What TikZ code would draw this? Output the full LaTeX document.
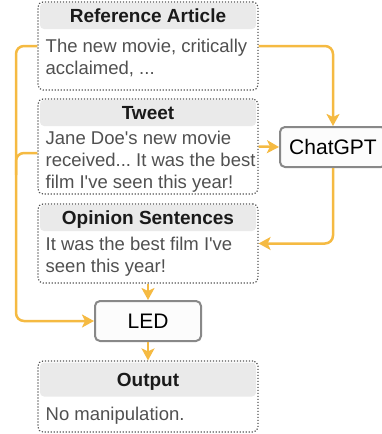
\documentclass[tikz,border=0pt]{standalone}
\usepackage{fontspec}
\setmainfont{Liberation Sans}[Ligatures=TeXOff]
\usetikzlibrary{arrows.meta,calc}
\definecolor{flowc}{RGB}{245,186,66}
\definecolor{hdrc}{RGB}{234,234,234}
\definecolor{bodyc}{RGB}{80,80,80}
\definecolor{titlec}{RGB}{26,26,26}
\definecolor{dotc}{RGB}{85,85,85}
\definecolor{modc}{RGB}{136,136,136}
\definecolor{modfill}{RGB}{252,252,252}
\frenchspacing
\begin{document}
\begin{tikzpicture}[x=1pt,y=-1pt,
 panel/.style={draw=dotc, line width=1.2pt, dash pattern=on 1.2pt off 1.8pt, rounded corners=5pt, minimum width=220pt, inner sep=0pt},
 hdr/.style={fill=hdrc, rounded corners=4pt, minimum width=216pt, inner sep=0pt},
 ttl/.style={font=\fontsize{19}{22}\selectfont\bfseries, text=titlec, anchor=base, inner sep=0pt},
 txt/.style={font=\fontsize{18.5}{22}\selectfont\frenchspacing, text=bodyc, anchor=base west, inner sep=0pt},
 model/.style={draw=modc, line width=2pt, fill=modfill, rounded corners=5pt, minimum width=106pt, minimum height=40pt, font=\fontsize{21}{24}\selectfont, inner sep=0pt},
 flow/.style={draw=flowc, line width=2.5pt, rounded corners=8pt, -{Stealth[length=12pt,width=13pt,inset=3pt]}},
 link/.style={draw=flowc, line width=2.5pt, rounded corners=8pt}]
\useasboundingbox (0,0) rectangle (382,434);

% Reference Article
\node[panel, minimum height=88pt] (ref) at (148,46) {};
\node[hdr, minimum height=26pt] (refh) at (148,16) {};
\node[ttl] (reft) at (148,22.3) {Reference Article};
\node[txt] (ref1) at (45.5,52) {The new movie, critically};
\node[txt] (ref2) at (45.5,74) {acclaimed, ...};

% Tweet
\node[panel, minimum height=95pt] (tw) at (148,146.5) {};
\node[hdr, minimum height=26pt] (twh) at (148,113) {};
\node[ttl] (twt) at (148,119) {Tweet};
\node[txt] (tw1) at (45.5,144) {Jane Doe's new movie};
\node[txt] (tw2) at (45.5,166) {received... It was the best};
\node[txt] (tw3) at (45.5,188) {film I've seen this year!};

% Opinion Sentences
\node[panel, minimum height=79pt] (op) at (148,243.5) {};
\node[hdr, minimum height=26pt] (oph) at (148,218) {};
\node[ttl] (opt) at (148,224) {Opinion Sentences};
\node[txt] (op1) at (45.5,250.5) {It was the best film I've};
\node[txt] (op2) at (45.5,272.5) {seen this year!};

% Output
\node[panel, minimum height=71pt] (out) at (148,396.5) {};
\node[hdr, minimum height=34pt] (outh) at (148,379.5) {};
\node[ttl] (outt) at (148,386) {Output};
\node[txt] (out1) at (45.5,420.5) {No manipulation.};

% Models
\node[model] (chat) at (333,147) {ChatGPT};
\node[model] (led) at (148,321) {LED};

% Connectors
\coordinate (lx) at (16,0);
\coordinate (tj) at (16,175);
\draw[flow] (ref.east) -| (chat.north);
\draw[flow] (tw.east) -- (chat.west);
\draw[flow] (chat.south) |- (op.east);
\draw[flow] (ref.west) -- (ref.west -| lx) |- (led.west);
\draw[link] ([yshift=-6.5pt]tw.west) -| (tj);
\draw[flow] (op.south) -- (led.north);
\draw[flow] (led.south) -- (out.north);
\end{tikzpicture}
\end{document}
